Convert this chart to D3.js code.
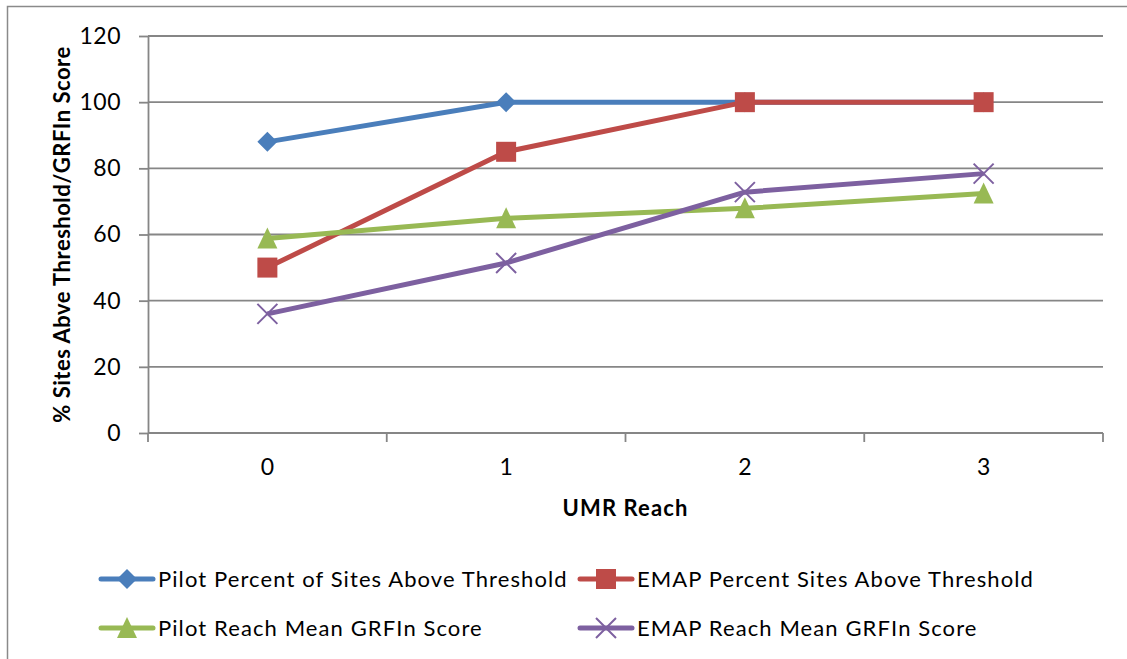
<!DOCTYPE html>
<html>
<head>
<meta charset="utf-8">
<script src="https://cdn.jsdelivr.net/npm/d3@7"></script>
<style>
  body { margin: 0; background: #fff; }
  svg text { font-family: Lato, "Open Sans", sans-serif; fill: #000; }
</style>
</head>
<body>
<div class="chart"></div>
<script>
// category labels on the x axis
var reaches = ["0", "1", "2", "3"];
var yTicks = [0, 20, 40, 60, 80, 100, 120];

// series values
var pilotPct = [88, 100, 100, 100];
var emapPct = [50, 85, 100, 100];
var pilotMean = [58.8, 64.9, 67.9, 72.4];
var emapMean = [36, 51.4, 72.8, 78.4];

var seriesNames = [
    "Pilot Percent of Sites Above Threshold",
    "EMAP Percent Sites Above Threshold",
    "Pilot Reach Mean GRFIn Score",
    "EMAP Reach Mean GRFIn Score"
];

var series = [
    {name: seriesNames[0], values: pilotPct, color: "#4a7ebb", marker: "diamond"},
    {name: seriesNames[1], values: emapPct, color: "#be4b48", marker: "square"},
    {name: seriesNames[2], values: pilotMean, color: "#98b954", marker: "triangle"},
    {name: seriesNames[3], values: emapMean, color: "#7d60a0", marker: "cross"}
];

var W = 1127, H = 659;
var margin = {top: 36, left: 148, right: 24, bottom: 226};
var width = W - margin.left - margin.right,
    height = H - margin.top - margin.bottom;

var svg = d3.select(".chart").append("svg")
    .attr("width", W)
    .attr("height", H);

// outer frame of the chart object
svg.append("rect")
    .attr("x", 7.5).attr("y", 6.5)
    .attr("width", W + 10).attr("height", H + 10)
    .attr("fill", "none")
    .attr("stroke", "#8a8a8a")
    .attr("stroke-width", 1.5);

var g = svg.append("g")
    .attr("transform", "translate(" + margin.left + "," + margin.top + ")");

var x = d3.scaleBand().domain(reaches).range([0, width]);
var y = d3.scaleLinear().domain([0, 120]).range([height, 0]);

// horizontal gridlines
g.selectAll(".grid")
    .data(yTicks.filter(function(d) { return d > 0; }))
    .enter().append("line")
    .attr("class", "grid")
    .attr("x1", 0).attr("x2", width)
    .attr("y1", function(d) { return y(d); })
    .attr("y2", function(d) { return y(d); })
    .attr("stroke", "#868686")
    .attr("stroke-width", 1.8);

// y axis
var yAxis = g.append("g")
    .call(d3.axisLeft(y).tickValues(yTicks).tickSize(9).tickPadding(18));
yAxis.selectAll("line").attr("stroke", "#868686").attr("stroke-width", 1.8);
yAxis.select(".domain").attr("stroke", "#868686").attr("stroke-width", 1.8).attr("d", "M0.5,0V" + height);
yAxis.selectAll("text").style("font-size", "23px").style("letter-spacing", "0.5px").attr("font-family", null);

// x axis: ticks at the category boundaries, labels at the centres
var xAxis = g.append("g").attr("transform", "translate(0," + height + ")");
xAxis.append("line")
    .attr("x1", 0).attr("x2", width)
    .attr("stroke", "#868686").attr("stroke-width", 1.8);
var bounds = reaches.map(function(d) { return x(d); }).concat([width]);
xAxis.selectAll(".xtick")
    .data(bounds)
    .enter().append("line")
    .attr("class", "xtick")
    .attr("x1", function(d) { return d; })
    .attr("x2", function(d) { return d; })
    .attr("y1", 0).attr("y2", 9)
    .attr("stroke", "#868686").attr("stroke-width", 1.8);
xAxis.selectAll(".xlabel")
    .data(reaches)
    .enter().append("text")
    .attr("class", "xlabel")
    .attr("x", function(d) { return x(d) + x.bandwidth() / 2; })
    .attr("y", 42)
    .attr("text-anchor", "middle")
    .style("font-size", "23px")
    .text(function(d) { return d; });

// axis titles
svg.append("text")
    .attr("x", margin.left + width / 2)
    .attr("y", 516)
    .attr("text-anchor", "middle")
    .style("font-size", "22px")
    .style("font-weight", "bold")
    .style("letter-spacing", "1.1px")
    .text("UMR Reach");

svg.append("text")
    .attr("transform", "translate(70," + (margin.top + height / 2) + ") rotate(-90)")
    .attr("text-anchor", "middle")
    .style("font-size", "22px")
    .style("font-weight", "bold")
    .style("letter-spacing", "0.5px")
    .text("% Sites Abve Threshold/GRFIn Score");

// marker shapes
function drawMarker(sel, type, color) {
    if (type === "diamond") {
        sel.append("path").attr("d", "M0,-10L10,0L0,10L-10,0Z").attr("fill", color);
    } else if (type === "square") {
        sel.append("rect").attr("x", -10).attr("y", -10).attr("width", 20).attr("height", 20)
            .attr("fill", color);
    } else if (type === "triangle") {
        sel.append("path").attr("d", "M0,-11L10,10L-10,10Z").attr("fill", color);
    } else if (type === "cross") {
        sel.append("path").attr("d", "M-10,-10L10,10M-10,10L10,-10")
            .attr("stroke", color).attr("stroke-width", 2).attr("fill", "none");
    }
}

var line = d3.line()
    .x(function(d, i) { return x(reaches[i]) + x.bandwidth() / 2; })
    .y(function(d) { return y(d); });

series.forEach(function(s) {
    var sg = g.append("g");
    sg.append("path")
        .attr("d", line(s.values))
        .attr("fill", "none")
        .attr("stroke", s.color)
        .attr("stroke-width", 5)
        .attr("stroke-linejoin", "round");
    s.values.forEach(function(v, i) {
        var m = sg.append("g")
            .attr("transform", "translate(" + (x(reaches[i]) + x.bandwidth() / 2) + "," + y(v) + ")");
        drawMarker(m, s.marker, s.color);
    });
});

// legend, two columns by two rows
var legendPos = [[99, 579], [578, 579], [99, 628], [578, 628]];
series.forEach(function(s, i) {
    var lg = svg.append("g")
        .attr("transform", "translate(" + legendPos[i][0] + "," + legendPos[i][1] + ")");
    lg.append("line")
        .attr("x1", 2).attr("x2", 54)
        .attr("stroke", s.color).attr("stroke-width", 5)
        .attr("stroke-linecap", "round");
    var m = lg.append("g").attr("transform", "translate(28,0)");
    drawMarker(m, s.marker, s.color);
    lg.append("text")
        .attr("x", 59)
        .attr("y", 8)
        .style("font-size", "22px")
        .style("letter-spacing", "1.1px")
        .text(s.name);
});
</script>
</body>
</html>
